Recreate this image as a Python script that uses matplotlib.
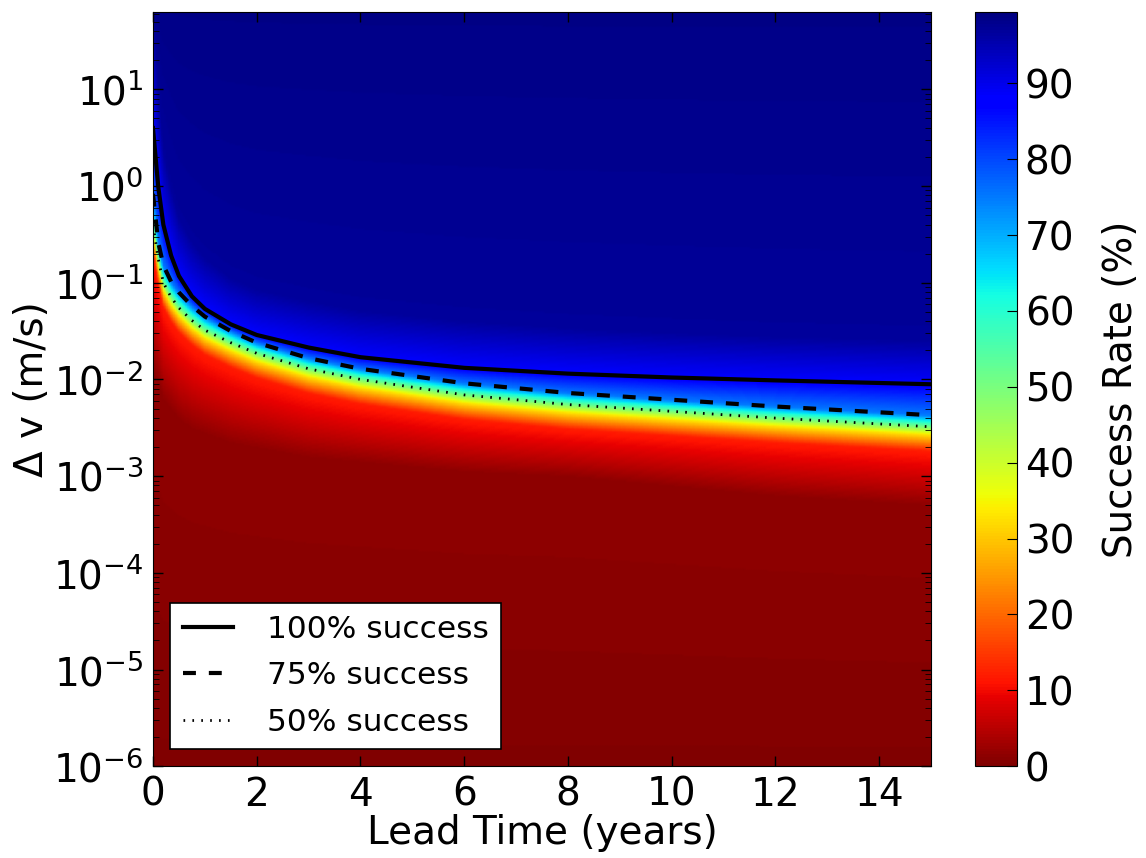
import numpy as np
import matplotlib.pyplot as plt
from matplotlib.colors import Normalize
from matplotlib.ticker import LogLocator

plt.rcParams['font.family'] = ['DejaVu Sans']
plt.rcParams['xtick.direction'] = 'in'
plt.rcParams['ytick.direction'] = 'in'
plt.rcParams['xtick.top'] = True
plt.rcParams['ytick.right'] = True

lead_time = [0, 0.1, 0.2, 0.35, 0.5, 0.75, 1, 1.5, 2, 3, 4, 6, 8, 10, 12, 15]

# log10(delta v) of the contour lines
dv_100 = [0.60, 0.00, -0.40, -0.72, -0.93, -1.14, -1.27, -1.43, -1.54, -1.67, -1.77, -1.88, -1.94, -1.98, -2.01, -2.05]
dv_75 = [-0.08, -0.58, -0.82, -0.99, -1.10, -1.24, -1.35, -1.50, -1.62, -1.78, -1.89, -2.04, -2.14, -2.21, -2.28, -2.37]
dv_50 = [-0.40, -0.75, -1.00, -1.15, -1.26, -1.39, -1.49, -1.62, -1.73, -1.89, -2.00, -2.16, -2.26, -2.33, -2.40, -2.49]

# log10(delta v) of other colour edges in the success-rate map
dv_97 = [1.90, 1.00, 0.40, 0.00, -0.30, -0.55, -0.72, -0.93, -1.05, -1.17, -1.27, -1.38, -1.45, -1.50, -1.54, -1.58]
dv_33 = [-0.48, -0.83, -1.08, -1.23, -1.34, -1.47, -1.57, -1.70, -1.81, -1.97, -2.08, -2.24, -2.34, -2.41, -2.48, -2.57]
dv_12 = [-0.65, -1.00, -1.25, -1.40, -1.51, -1.64, -1.74, -1.87, -1.98, -2.14, -2.25, -2.41, -2.51, -2.58, -2.65, -2.74]
dv_1 = [-1.90, -2.00, -2.20, -2.30, -2.40, -2.50, -2.55, -2.65, -2.70, -2.80, -2.85, -2.95, -3.00, -3.10, -3.20, -3.30]

# success rate (%) on each edge, bottom to top
edge_rates = [0.3, 1.5, 12.0, 33.0, 50.0, 75.0, 88.0, 97.0, 98.8]
edge_bottom, edge_top = -6.0, 2.0

x_ticks = [0, 2, 4, 6, 8, 10, 12, 14]
y_ticks = [1e-6, 1e-5, 1e-4, 1e-3, 1e-2, 1e-1, 1e0, 1e1]
cbar_ticks = [0, 10, 20, 30, 40, 50, 60, 70, 80, 90]

t_grid = np.linspace(0, 15, 451)
logv_grid = np.linspace(-6, 1.95, 500)
edges = [dv_1, dv_12, dv_33, dv_50, dv_75, dv_100, dv_97]
Z = np.zeros((len(logv_grid), len(t_grid)))
for j, t in enumerate(t_grid):
    pos = [edge_bottom] + [np.interp(t, lead_time, e) for e in edges] + [edge_top]
    Z[:, j] = np.interp(logv_grid, pos, edge_rates)

fig = plt.figure(figsize=(11.46, 8.58), dpi=100)
ax = fig.add_axes([0.1335, 0.107, 0.679, 0.879])
cax = fig.add_axes([0.851, 0.107, 0.036, 0.879])

norm = Normalize(vmin=0, vmax=99.4)
mesh = ax.pcolormesh(t_grid, 10 ** logv_grid, Z, cmap='jet_r', norm=norm, shading='gouraud')

t = np.array(lead_time)
ax.plot(t, 10 ** np.array(dv_100), color='black', lw=3, label='100% success')
ax.plot(t, 10 ** np.array(dv_75), color='black', lw=3, ls=(0, (3.1, 3.1)), label='75% success')
ax.plot(t, 10 ** np.array(dv_50), color='black', lw=2, ls=(0, (0.6, 2.6)), label='50% success')

ax.set_yscale('log')
ax.set_xlim(0, 15)
ax.set_ylim(1e-6, 10 ** 1.8)
ax.set_xticks(x_ticks)
ax.set_yticks(y_ticks)
ax.yaxis.set_minor_locator(LogLocator(base=10, subs=np.arange(2, 10)))
ax.tick_params(labelsize=28, length=7, width=1, pad=7)
ax.tick_params(which='minor', length=4, labelleft=False)
ax.set_xlabel('Lead Time (years)', fontsize=28, labelpad=0)
ax.set_ylabel('Δ v (m/s)', fontsize=28, labelpad=1)

leg = ax.legend(loc='lower left', fontsize=22.5, handlelength=1.6, handletextpad=1.1,
                labelspacing=0.55, fancybox=False, framealpha=1, edgecolor='black',
                borderaxespad=0.55)
leg.get_frame().set_linewidth(1.2)

cb = fig.colorbar(mesh, cax=cax, ticks=cbar_ticks)
cb.ax.tick_params(labelsize=28, direction='in', length=7, pad=6)
cb.set_label('Success Rate (%)', fontsize=28, labelpad=20)

fig.savefig('out.png', dpi=100)
